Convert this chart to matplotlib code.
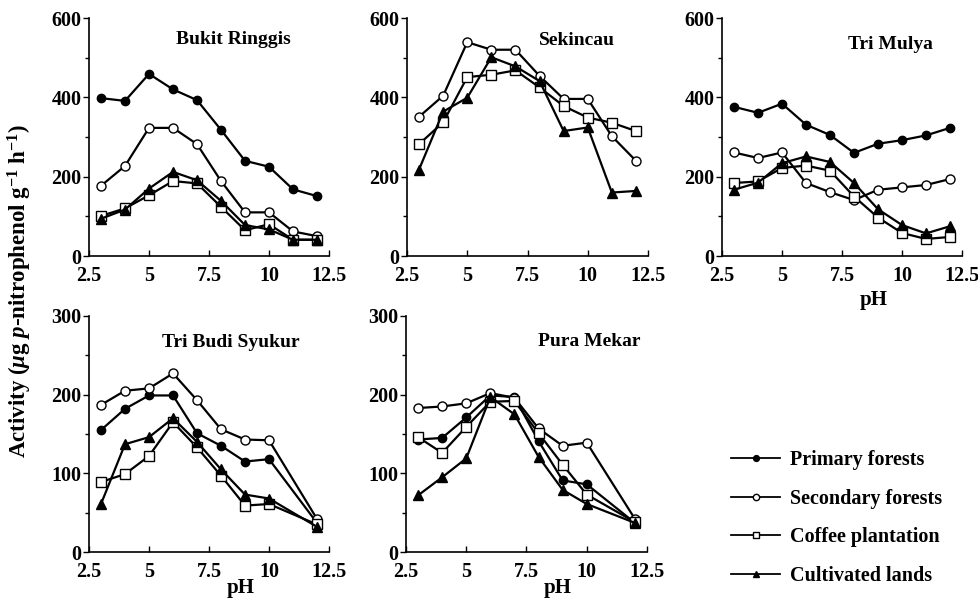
import matplotlib
matplotlib.use("Agg")
import matplotlib.pyplot as plt
from matplotlib.lines import Line2D
from matplotlib.ticker import MultipleLocator

# data
ph_top = [3, 4, 5, 6, 7, 8, 9, 10, 11, 12]
ph_bottom = [3, 4, 5, 6, 7, 8, 9, 10, 12]

series_names = ['Primary forests', 'Secondary forests', 'Coffee plantation', 'Cultivated lands']

bukit_primary = [398, 391, 459, 420, 393, 318, 240, 225, 168, 151]
bukit_secondary = [177, 227, 323, 323, 282, 189, 110, 110, 62, 50]
bukit_coffee = [101, 120, 153, 189, 183, 124, 65, 80, 41, 41]
bukit_cultivated = [94, 117, 170, 212, 191, 139, 78, 67, 41, 41]

sekincau_secondary = [351, 404, 539, 520, 520, 454, 396, 396, 302, 240]
sekincau_coffee = [282, 337, 451, 457, 468, 425, 378, 349, 336, 315]
sekincau_cultivated = [218, 364, 399, 501, 478, 441, 315, 324, 160, 164]

mulya_primary = [376, 361, 384, 331, 305, 260, 283, 292, 304, 323]
mulya_secondary = [261, 247, 261, 184, 161, 141, 167, 173, 179, 194]
mulya_coffee = [184, 188, 222, 228, 215, 150, 97, 58, 43, 48]
mulya_cultivated = [167, 185, 234, 251, 237, 184, 118, 78, 57, 75]

budi_primary = [155, 182, 199, 199, 151, 135, 115, 118, 37]
budi_secondary = [187, 205, 208, 227, 193, 156, 143, 142, 42]
budi_coffee = [89, 99, 122, 165, 133, 97, 59, 61, 35]
budi_cultivated = [61, 137, 146, 170, 140, 105, 73, 68, 32]

pura_primary = [143, 145, 171, 199, 197, 141, 91, 86, 37]
pura_secondary = [183, 185, 189, 202, 196, 157, 135, 139, 42]
pura_coffee = [146, 126, 159, 191, 192, 151, 111, 73, 38]
pura_cultivated = [72, 95, 119, 197, 175, 121, 79, 61, 37]

plt.rcParams['font.family'] = ['Liberation Serif', 'DejaVu Serif']
plt.rcParams['font.weight'] = 'bold'
plt.rcParams['mathtext.fontset'] = 'custom'
plt.rcParams['mathtext.it'] = 'Liberation Serif:italic:bold'
plt.rcParams['mathtext.rm'] = 'Liberation Serif:bold'

styles = {
    'Primary forests': dict(marker='o', mfc='black', mec='black', ms=6),
    'Secondary forests': dict(marker='o', mfc='white', mec='black', ms=6.5),
    'Coffee plantation': dict(marker='s', mfc='white', mec='black', ms=6.5),
    'Cultivated lands': dict(marker='^', mfc='black', mec='black', ms=7),
}

fig = plt.figure(figsize=(9.79, 5.99), dpi=100)

W, H = 979, 599


def make_axes(left, right, top, bottom):
    return fig.add_axes([left / W, 1 - bottom / H, (right - left) / W, (bottom - top) / H])


def style_axes(ax, ymax, major, minor):
    ax.set_xlim(2.5, 12.5)
    ax.set_ylim(0, ymax)
    ax.spines['top'].set_visible(False)
    ax.spines['right'].set_visible(False)
    ax.spines['left'].set_linewidth(1.2)
    ax.spines['bottom'].set_linewidth(1.2)
    ax.set_xticks([2.5, 5, 7.5, 10, 12.5])
    ax.set_xticklabels(['2.5', '5', '7.5', '10', '12.5'])
    ax.yaxis.set_major_locator(MultipleLocator(major))
    ax.yaxis.set_minor_locator(MultipleLocator(minor))
    ax.tick_params(axis='x', direction='in', length=4, width=1, labelsize=14.5, pad=7)
    ax.tick_params(axis='y', which='both', direction='out', length=4, width=1, labelsize=14.5, pad=1.5)
    ax.tick_params(axis='y', which='minor', length=3)


def plot_series(ax, x, data):
    for name, vals in data:
        ax.plot(x, vals, color='black', lw=1.6, clip_on=False, zorder=3, **styles[name])


panels = [
    ((89, 329, 18, 256), 600, 'Bukit Ringgis', (0.6, 0.91), ph_top,
     [('Primary forests', bukit_primary), ('Secondary forests', bukit_secondary),
      ('Coffee plantation', bukit_coffee), ('Cultivated lands', bukit_cultivated)], None),
    ((407, 648, 18, 256), 600, 'Sekincau', (0.705, 0.907), ph_top,
     [('Secondary forests', sekincau_secondary), ('Coffee plantation', sekincau_coffee),
      ('Cultivated lands', sekincau_cultivated)], None),
    ((722, 962, 18, 256), 600, 'Tri Mulya', (0.70, 0.89), ph_top,
     [('Primary forests', mulya_primary), ('Secondary forests', mulya_secondary),
      ('Coffee plantation', mulya_coffee), ('Cultivated lands', mulya_cultivated)], -0.143),
    ((89, 329, 316, 552), 300, 'Tri Budi Syukur', (0.59, 0.886), ph_bottom,
     [('Primary forests', budi_primary), ('Secondary forests', budi_secondary),
      ('Coffee plantation', budi_coffee), ('Cultivated lands', budi_cultivated)], -0.11),
    ((406, 647, 316, 552), 300, 'Pura Mekar', (0.76, 0.89), ph_bottom,
     [('Primary forests', pura_primary), ('Secondary forests', pura_secondary),
      ('Coffee plantation', pura_coffee), ('Cultivated lands', pura_cultivated)], -0.11),
]

for box, ymax, title, tpos, x, data, ph_y in panels:
    ax = make_axes(*box)
    if ymax == 600:
        style_axes(ax, ymax, 200, 100)
    else:
        style_axes(ax, ymax, 100, 50)
    plot_series(ax, x, data)
    ax.text(tpos[0], tpos[1], title, transform=ax.transAxes, ha='center', va='center',
            fontsize=14, fontweight='bold')
    if ph_y is not None:
        ax.set_xlabel('pH', fontsize=15, fontweight='bold')
        ax.xaxis.set_label_coords(0.63, ph_y)

fig.text(0.02, 0.514, r'Activity ($\mu$g $p$-nitrophenol g$^{-1}$ h$^{-1}$)',
         rotation=90, ha='center', va='center', fontsize=16.5, fontweight='bold')

handles = [Line2D([0], [0], color='black', lw=1.3,
                  **{k: (v * 0.7 if k == 'ms' else v) for k, v in styles[n].items()})
           for n in series_names]
leg = fig.legend(handles, series_names, loc='upper left', bbox_to_anchor=(721 / W, 1 - 440 / H),
                 frameon=False, fontsize=14.5, handlelength=2.45, labelspacing=0.92,
                 handletextpad=0.5, borderpad=0)

fig.savefig('out.png', dpi=100)
